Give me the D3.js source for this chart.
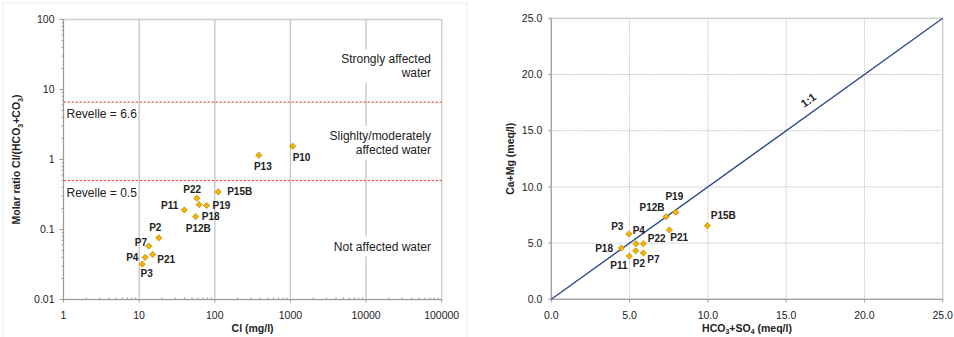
<!DOCTYPE html>
<html>
<head>
<meta charset="utf-8">
<script src="https://cdn.jsdelivr.net/npm/d3@7"></script>
<style>
  html, body { margin: 0; padding: 0; background: #fff; }
  svg { display: block; font-family: "Liberation Sans", Arial, sans-serif; }
</style>
</head>
<body>
<svg id="chart" width="954" height="337"></svg>
<script>
// ---- data: left panel (Revelle) ----
var leftNames = ["P10", "P13", "P15B", "P22", "P19", "P18", "P11", "P12B", "P2", "P7", "P21", "P4", "P3"];
var leftCl = [1070, 382, 111, 57.8, 78, 62, 39.6, 56, 18.2, 13.4, 15.1, 12, 11];
var leftRatio = [1.55, 1.15, 0.344, 0.28, 0.22, 0.227, 0.19, 0.153, 0.076, 0.058, 0.044, 0.040, 0.032];
var revelleValues = [6.6, 0.5];
var revelleLabels = ["Revelle = 6.6", "Revelle = 0.5"];
var zoneLabels = [["Strongly affected", "water"], ["Slighlty/moderately", "affected water"], ["Not affected water"]];
var zoneValues = [21.7, 1.73, 0.0575];   // ratio at which each zone text block is centred
var leftXTicks = [1, 10, 100, 1000, 10000, 100000];
var leftYTicks = [0.01, 0.1, 1, 10, 100];

// ---- data: right panel (Ca+Mg vs HCO3+SO4) ----
var rightNames = ["P19", "P12B", "P15B", "P21", "P3", "P4", "P22", "P18", "P11", "P2", "P7"];
var rightHco3So4 = [7.95, 7.33, 9.97, 7.54, 4.95, 5.41, 5.88, 4.47, 4.98, 5.39, 5.88];
var rightCaMg = [7.74, 7.35, 6.55, 6.17, 5.81, 4.95, 4.95, 4.56, 3.85, 4.32, 4.12];
var rightTicks = [0, 5, 10, 15, 20, 25];
var oneToOne = [0, 25];

// label placement (dx, dy, anchor) relative to each point
var leftLabelPos = {
    P10: [0, 11, "start"], P13: [4, 11, "middle"], P15B: [9, 0, "start"],
    P22: [-4.5, -9, "middle"], P19: [6, 0, "start"], P18: [2.7, 12, "start"],
    P11: [-6, -4.7, "end"], P12B: [2.5, 12, "middle"], P2: [-3.5, -10, "middle"],
    P7: [-1.7, -3.7, "end"], P21: [4.6, 5, "start"], P4: [-6.7, 0, "end"],
    P3: [4.4, 9, "middle"]
};
var rightLabelPos = {
    P19: [-1.4, -16, "middle"], P12B: [-14, -9.4, "middle"], P15B: [3.4, -10.4, "start"],
    P21: [1, 7.7, "start"], P3: [-5.4, -7.3, "end"], P4: [-3.3, -13, "start"],
    P22: [4.4, -4.7, "start"], P18: [-8.3, 0, "end"], P11: [-10.3, 9.7, "middle"],
    P2: [3.3, 12.3, "middle"], P7: [4, 6.3, "start"]
};

var svg = d3.select("#chart");
var gridCol = "#c4c4c4", axisCol = "#9a9a9a", textCol = "#222";
var diamond = d3.symbol().type(d3.symbolSquare).size(19);

function drawPoints(g, names, xs, ys, x, y, pos) {
    var data = names.map(function(n, i) { return { name: n, x: xs[i], y: ys[i] }; });
    g.selectAll("path.pt").data(data).enter().append("path")
        .attr("class", "pt")
        .attr("d", diamond)
        .attr("transform", function(d) { return "translate(" + x(d.x) + "," + y(d.y) + ") rotate(45)"; })
        .attr("fill", "#f4b400")
        .attr("stroke", "#b88400")
        .attr("stroke-width", 0.7);
    g.selectAll("text.lbl").data(data).enter().append("text")
        .attr("class", "lbl")
        .attr("x", function(d) { return x(d.x) + pos[d.name][0]; })
        .attr("y", function(d) { return y(d.y) + pos[d.name][1]; })
        .attr("dy", "0.35em")
        .attr("text-anchor", function(d) { return pos[d.name][2]; })
        .attr("font-size", 10)
        .attr("font-weight", "bold")
        .attr("fill", textCol)
        .text(function(d) { return d.name; });
}

// ================= left panel =================
var xL = d3.scaleLog().domain([1, 100000]).range([63.5, 441.7]);
var yL = d3.scaleLog().domain([0.01, 100]).range([299.5, 19.5]);
var left = svg.append("g");

left.append("rect").attr("x", 3).attr("y", 3).attr("width", 464).attr("height", 340)
    .attr("fill", "none").attr("stroke", "#ececec");

// vertical gridlines at decades
left.selectAll("line.vg").data(leftXTicks.slice(1, -1)).enter().append("line")
    .attr("x1", xL).attr("x2", xL).attr("y1", yL.range()[1]).attr("y2", yL.range()[0])
    .attr("stroke", gridCol).attr("stroke-width", 1.3);

// plot border
left.append("rect")
    .attr("x", xL.range()[0]).attr("y", yL.range()[1])
    .attr("width", xL.range()[1] - xL.range()[0]).attr("height", yL.range()[0] - yL.range()[1])
    .attr("fill", "none").attr("stroke", "#cfcfcf").attr("stroke-width", 1.5);

// Revelle limits
left.selectAll("line.rev").data(revelleValues).enter().append("line")
    .attr("x1", xL.range()[0]).attr("x2", xL.range()[1])
    .attr("y1", yL).attr("y2", yL)
    .attr("stroke", "#e23b3b").attr("stroke-width", 1).attr("stroke-dasharray", "2.5,1.5");
left.selectAll("text.rev").data(revelleLabels).enter().append("text")
    .attr("x", 66.5)
    .attr("y", function(d, i) { return yL(revelleValues[i]) + 12; })
    .attr("dy", "0.35em")
    .attr("font-size", 12).attr("fill", textCol)
    .text(function(d) { return d; });

// zone labels on white boxes
zoneLabels.forEach(function(lines, i) {
    var cy = yL(zoneValues[i]);
    var h = lines.length * 13.7;
    var top = cy - h / 2;
    var gz = left.append("g");
    var t = gz.append("text").attr("text-anchor", "end").attr("font-size", 12).attr("fill", textCol);
    lines.forEach(function(s, k) {
        t.append("tspan").attr("x", 431).attr("y", top + 6.85 + k * 13.7).attr("dy", "0.35em").text(s);
    });
    var bb = t.node().getBBox();
    gz.insert("rect", "text").attr("x", bb.x - 3).attr("y", bb.y - 3)
        .attr("width", bb.width + 6).attr("height", bb.height + 6).attr("fill", "#fff");
});

// axes
var axXL = left.append("g").attr("transform", "translate(0," + yL.range()[0] + ")");
axXL.append("line").attr("x1", xL.range()[0]).attr("x2", xL.range()[1]).attr("stroke", axisCol);
axXL.selectAll("line.mj").data(leftXTicks).enter().append("line")
    .attr("x1", xL).attr("x2", xL).attr("y1", 0).attr("y2", 3).attr("stroke", axisCol);
var minorX = [];
leftXTicks.slice(0, -1).forEach(function(t) { for (var m = 2; m < 10; m++) minorX.push(t * m); });
axXL.selectAll("line.mn").data(minorX).enter().append("line")
    .attr("x1", xL).attr("x2", xL).attr("y1", 0).attr("y2", -2).attr("stroke", axisCol);
axXL.selectAll("text").data(leftXTicks).enter().append("text")
    .attr("x", xL).attr("y", 16).attr("dy", "0.35em").attr("text-anchor", "middle")
    .attr("font-size", 10.5).attr("fill", textCol).text(function(d) { return d; });

var axYL = left.append("g").attr("transform", "translate(" + xL.range()[0] + ",0)");
axYL.append("line").attr("y1", yL.range()[0]).attr("y2", yL.range()[1]).attr("stroke", axisCol);
axYL.selectAll("line.mj").data(leftYTicks).enter().append("line")
    .attr("y1", yL).attr("y2", yL).attr("x1", 0).attr("x2", -4).attr("stroke", axisCol);
var minorY = [];
leftYTicks.slice(0, -1).forEach(function(t) { for (var m = 2; m < 10; m++) minorY.push(t * m); });
axYL.selectAll("line.mn").data(minorY).enter().append("line")
    .attr("y1", yL).attr("y2", yL).attr("x1", 0).attr("x2", -2).attr("stroke", axisCol);
axYL.selectAll("text").data(leftYTicks).enter().append("text")
    .attr("x", -9).attr("y", yL).attr("dy", "0.35em").attr("text-anchor", "end")
    .attr("font-size", 10.5).attr("fill", textCol).text(function(d) { return d; });

// axis titles
left.append("text").attr("x", d3.mean(xL.range())).attr("y", 332)
    .attr("text-anchor", "middle").attr("font-size", 10.5).attr("font-weight", "bold").attr("fill", textCol)
    .text("Cl (mg/l)");
var ytL = left.append("text")
    .attr("transform", "translate(20," + d3.mean(yL.range()) + ") rotate(-90)")
    .attr("text-anchor", "middle").attr("font-size", 10.5).attr("font-weight", "bold").attr("fill", textCol);
ytL.append("tspan").text("Molar ratio Cl/(HCO");
ytL.append("tspan").attr("font-size", 7).attr("dy", 2.5).text("3");
ytL.append("tspan").attr("dy", -2.5).text("+CO");
ytL.append("tspan").attr("font-size", 7).attr("dy", 2.5).text("3");
ytL.append("tspan").attr("dy", -2.5).text(")");

drawPoints(left, leftNames, leftCl, leftRatio, xL, yL, leftLabelPos);

// ================= right panel =================
var xR = d3.scaleLinear().domain([0, 25]).range([551.3, 942.7]);
var yR = d3.scaleLinear().domain([0, 25]).range([299.3, 18.3]);
var right = svg.append("g");

right.selectAll("line.vg").data(rightTicks.slice(1, -1)).enter().append("line")
    .attr("x1", xR).attr("x2", xR).attr("y1", yR.range()[1]).attr("y2", yR.range()[0])
    .attr("stroke", gridCol).attr("stroke-dasharray", "1.5,1");
right.selectAll("line.hg").data(rightTicks.slice(1, -1)).enter().append("line")
    .attr("y1", yR).attr("y2", yR).attr("x1", xR.range()[0]).attr("x2", xR.range()[1])
    .attr("stroke", gridCol).attr("stroke-dasharray", "1.5,1");
right.append("rect")
    .attr("x", xR.range()[0]).attr("y", yR.range()[1])
    .attr("width", xR.range()[1] - xR.range()[0]).attr("height", yR.range()[0] - yR.range()[1])
    .attr("fill", "none").attr("stroke", "#cfcfcf").attr("stroke-width", 1.5);

var axXR = right.append("g").attr("transform", "translate(0," + yR.range()[0] + ")");
axXR.append("line").attr("x1", xR.range()[0]).attr("x2", xR.range()[1]).attr("stroke", axisCol);
axXR.selectAll("line.mj").data(rightTicks).enter().append("line")
    .attr("x1", xR).attr("x2", xR).attr("y1", 0).attr("y2", 3).attr("stroke", axisCol);
axXR.selectAll("text").data(rightTicks).enter().append("text")
    .attr("x", xR).attr("y", 16).attr("dy", "0.35em").attr("text-anchor", "middle")
    .attr("font-size", 10.5).attr("fill", textCol).text(function(d) { return d3.format(".1f")(d); });

var axYR = right.append("g").attr("transform", "translate(" + xR.range()[0] + ",0)");
axYR.append("line").attr("y1", yR.range()[0]).attr("y2", yR.range()[1]).attr("stroke", axisCol);
axYR.selectAll("line.mj").data(rightTicks).enter().append("line")
    .attr("y1", yR).attr("y2", yR).attr("x1", 0).attr("x2", -3).attr("stroke", axisCol);
axYR.selectAll("text").data(rightTicks).enter().append("text")
    .attr("x", -9).attr("y", yR).attr("dy", "0.35em").attr("text-anchor", "end")
    .attr("font-size", 10.5).attr("fill", textCol).text(function(d) { return d3.format(".1f")(d); });

// 1:1 line
right.append("line")
    .attr("x1", xR(oneToOne[0])).attr("y1", yR(oneToOne[0]))
    .attr("x2", xR(oneToOne[1])).attr("y2", yR(oneToOne[1]))
    .attr("stroke", "#2f4a8a").attr("stroke-width", 1.4);
var ang = Math.atan2(yR(oneToOne[1]) - yR(oneToOne[0]), xR(oneToOne[1]) - xR(oneToOne[0])) * 180 / Math.PI;
right.append("text")
    .attr("transform", "translate(" + xR(16.42) + "," + (yR(16.42) - 14.5) + ") rotate(" + ang + ")")
    .attr("text-anchor", "middle").attr("dy", "0.35em")
    .attr("font-size", 11).attr("font-weight", "bold").attr("fill", textCol).text("1:1");

// axis titles
var xtR = right.append("text").attr("x", d3.mean(xR.range())).attr("y", 332)
    .attr("text-anchor", "middle").attr("font-size", 10.5).attr("font-weight", "bold").attr("fill", textCol);
xtR.append("tspan").text("HCO");
xtR.append("tspan").attr("font-size", 7).attr("dy", 2).text("3");
xtR.append("tspan").attr("dy", -2).text("+SO");
xtR.append("tspan").attr("font-size", 7).attr("dy", 2).text("4");
xtR.append("tspan").attr("dy", -2).text(" (meq/l)");
right.append("text")
    .attr("transform", "translate(514," + d3.mean(yR.range()) + ") rotate(-90)")
    .attr("text-anchor", "middle").attr("font-size", 10.5).attr("font-weight", "bold").attr("fill", textCol)
    .text("Ca+Mg (meq/l)");

drawPoints(right, rightNames, rightHco3So4, rightCaMg, xR, yR, rightLabelPos);
</script>
</body>
</html>
